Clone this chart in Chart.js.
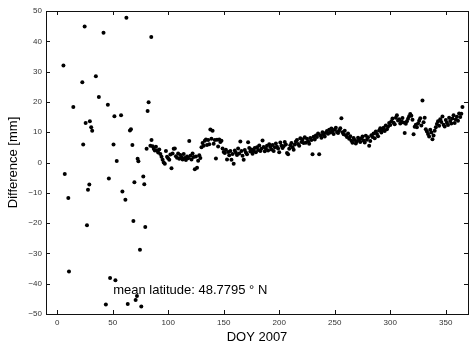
<!DOCTYPE html>
<html>
<head>
<meta charset="utf-8">
<script src="https://cdn.jsdelivr.net/npm/chart.js@4"></script>
<style>
  html, body { margin: 0; padding: 0; background: #fff; }
  #wrap { width: 472px; height: 349px; }
</style>
</head>
<body>
<div id="wrap"><canvas id="diffChart" width="472" height="349"></canvas></div>
<script>
// early-year outliers (DOY, mm)
const scatterX = [5.7, 24.8, 41.8, 62.4, 84.8, 22.7, 34.9, 14.6, 37.6, 45.7, 82.4, 81.5, 51.6, 57.6, 25.7, 29.5,
    30.7, 31.6, 65.6, 66.5, 23.5, 50.8, 67.8, 53.7, 72.5, 73.2, 6.9, 10.1, 27.8, 29.0, 46.6, 69.6,
    77.6, 78.5, 58.8, 61.5, 26.9, 68.7, 79.4, 74.6, 10.7, 47.7, 52.5, 43.9, 63.6, 71.9, 70.7, 75.8, 80.6];
const scatterY = [32.0, 44.9, 42.8, 47.8, 41.4, 26.5, 28.5, 18.3, 21.6, 19.1, 19.9, 17.0, 15.3, 15.6, 13.0, 13.6,
    11.6, 10.5, 10.6, 11.0, 5.9, 5.9, 5.8, 0.5, 1.2, 0.4, -3.8, -11.7, -9.0, -7.3, -5.3, -6.5,
    -4.6, -7.2, -9.6, -12.3, -20.7, -19.3, -21.3, -28.8, -36.0, -38.1, -38.9, -46.9, -46.7, -44.1, -45.4, -47.5, 4.5];

// daily values from DOY 84 on
const bandStart = 84;
const bandY = [
    5.5, 7.4, 5.4, 4.5, 4.0, 5.2, 4.0, 3.3, 4.3, 2.8,
    1.9, 0.9, 0.0, -0.4, 3.8, 1.9, 1.4, 0.9, 2.6, -1.9,
    3.0, 4.5, 4.6, 2.1, 1.6, 3.0, 1.2, 2.5, 1.8, 1.0,
    2.8, 1.5, 0.8, 2.0, 1.4, 7.1, 2.2, 1.0, 3.0, 1.8,
    -2.2, 2.0, -1.7, 0.6, 2.4, 1.5, 5.0, 6.4, 5.5, 7.2,
    7.6, 5.8, 7.4, 6.0, 10.9, 7.8, 10.5, 6.2, 7.4, 1.3,
    7.5, 5.3, 7.6, 6.8, 7.2, 4.6, 3.5, 3.1, 4.2, 1.0,
    3.5, 2.4, 3.8, 0.9, 2.8, -0.4, 4.0, 3.2, 2.5, 4.6,
    3.0, 6.9, 3.8, 2.2, 0.9, 4.1, 3.3, 2.7, 6.7, 4.8,
    3.6, 4.3, 2.9, 3.9, 4.8, 3.4, 5.0, 4.1, 5.6, 3.8,
    4.5, 7.3, 5.1, 3.7, 4.6, 5.5, 4.0, 6.0, 5.1, 4.3,
    5.8, 3.8, 5.0, 6.3, 5.2, 4.6, 3.4, 6.6, 5.5, 4.8,
    5.4, 6.8, 5.9, 3.1, 2.7, 4.5, 5.7, 6.4, 5.0, 4.2,
    5.9, 6.9, 7.4, 6.1, 5.5, 8.0, 6.8, 7.6, 6.4, 8.3,
    6.5, 7.8, 7.0, 6.2, 8.1, 7.4, 2.7, 8.5, 7.6, 8.9,
    8.4, 9.6, 2.7, 9.0, 8.2, 10.0, 9.2, 8.6, 9.8, 10.4,
    9.5, 10.8, 9.9, 11.2, 10.3, 9.4, 10.9, 11.5, 10.1, 9.7,
    10.6, 11.3, 14.6, 10.0, 9.3, 10.5, 9.0, 8.4, 9.6, 7.8,
    8.7, 7.2, 6.5, 8.1, 7.4, 6.3, 7.0, 8.2, 7.6, 6.8,
    7.9, 8.6, 7.3, 6.6, 8.8, 7.5, 8.3, 5.5, 7.1, 9.0,
    8.4, 9.6, 8.0, 10.2, 9.4, 8.7, 10.6, 11.3, 9.9, 10.8,
    11.5, 10.4, 12.2, 11.0, 11.8, 13.0, 12.4, 13.6, 14.5, 13.1,
    12.6, 14.8, 15.6, 13.9, 14.3, 12.9, 13.5, 14.7, 13.2, 9.7,
    12.8, 13.6, 14.4, 15.3, 16.0, 15.4, 14.1, 9.3, 11.8, 12.5,
    11.6, 12.9, 13.8, 14.6, 12.2, 20.5, 13.3, 14.8, 11.0, 10.2,
    9.4, 8.6, 10.8, 9.9, 7.7, 8.9, 10.5, 11.6, 12.7, 13.6,
    12.1, 14.3, 13.4, 15.2, 12.5, 11.9, 14.0, 13.1, 12.4, 14.8,
    13.7, 12.9, 14.5, 15.6, 13.0, 14.2, 15.1, 13.8, 16.2, 15.0,
    16.1, 18.3
];

const xTicks = [0, 50, 100, 150, 200, 250, 300, 350];
const yTicks = [-50, -40, -30, -20, -10, 0, 10, 20, 30, 40, 50];
const annotation = 'mean latitude: 48.7795 ° N';

const points = scatterX.map((x, i) => ({ x: x, y: scatterY[i] }))
    .concat(bandY.map((y, i) => ({ x: bandStart + i, y: y })));

const fontFamily = '"Liberation Sans", Arial, Helvetica, sans-serif';

// MATLAB style frame: box with inward ticks, plus the text label
const framePlugin = {
    id: 'frame',
    afterDraw(chart) {
        const ctx = chart.ctx;
        const a = chart.chartArea;
        const xs = chart.scales.x;
        const ys = chart.scales.y;
        const len = 4;
        ctx.save();
        ctx.strokeStyle = '#111';
        ctx.lineWidth = 1;
        ctx.strokeRect(Math.round(a.left) + 0.5, Math.round(a.top) + 0.5,
            Math.round(a.right - a.left), Math.round(a.bottom - a.top));
        ctx.beginPath();
        xTicks.forEach(v => {
            const px = Math.round(xs.getPixelForValue(v)) + 0.5;
            ctx.moveTo(px, a.bottom);
            ctx.lineTo(px, a.bottom - len);
            ctx.moveTo(px, a.top);
            ctx.lineTo(px, a.top + len);
        });
        yTicks.forEach(v => {
            const py = Math.round(ys.getPixelForValue(v)) + 0.5;
            ctx.moveTo(a.left, py);
            ctx.lineTo(a.left + len, py);
            ctx.moveTo(a.right, py);
            ctx.lineTo(a.right - len, py);
        });
        ctx.stroke();

        ctx.fillStyle = '#000';
        ctx.font = '13px ' + fontFamily;
        ctx.textBaseline = 'middle';
        ctx.textAlign = 'left';
        ctx.fillText(annotation, xs.getPixelForValue(50.5), ys.getPixelForValue(-42.3));
        ctx.restore();
    }
};

new Chart(document.getElementById('diffChart'), {
    type: 'scatter',
    data: {
        datasets: [{
            data: points,
            backgroundColor: '#000',
            borderColor: '#000',
            pointRadius: 2,
            borderWidth: 0,
        }],
    },
    options: {
        responsive: false,
        animation: false,
        events: [],
        layout: { padding: { top: 11, right: 1, left: 0, bottom: 0 } },
        plugins: {
            legend: { display: false },
            tooltip: { enabled: false },
        },
        scales: {
            x: {
                type: 'linear',
                min: -10,
                max: 370,
                afterBuildTicks: axis => { axis.ticks = xTicks.map(v => ({ value: v })); },
                afterFit: axis => { axis.height = 35; },
                grid: { display: false, drawTicks: false },
                border: { display: false },
                ticks: {
                    color: '#333',
                    font: { family: fontFamily, size: 8 },
                    padding: 4,
                    maxRotation: 0,
                },
                title: {
                    display: true,
                    text: 'DOY 2007',
                    color: '#000',
                    font: { family: fontFamily, size: 13 },
                    padding: { top: 0, bottom: 4 },
                },
            },
            y: {
                min: -50,
                max: 50,
                afterBuildTicks: axis => { axis.ticks = yTicks.map(v => ({ value: v })); },
                afterFit: axis => { axis.width = 46; },
                grid: { display: false, drawTicks: false },
                border: { display: false },
                ticks: {
                    color: '#333',
                    font: { family: fontFamily, size: 8 },
                    padding: 4,
                    callback: v => (v < 0 ? '\u2212' + Math.abs(v) : String(v)),
                },
                title: {
                    display: true,
                    text: 'Difference [mm]',
                    color: '#000',
                    font: { family: fontFamily, size: 13 },
                    padding: { top: 6, bottom: 0 },
                },
            },
        },
    },
    plugins: [framePlugin],
});
</script>
</body>
</html>
